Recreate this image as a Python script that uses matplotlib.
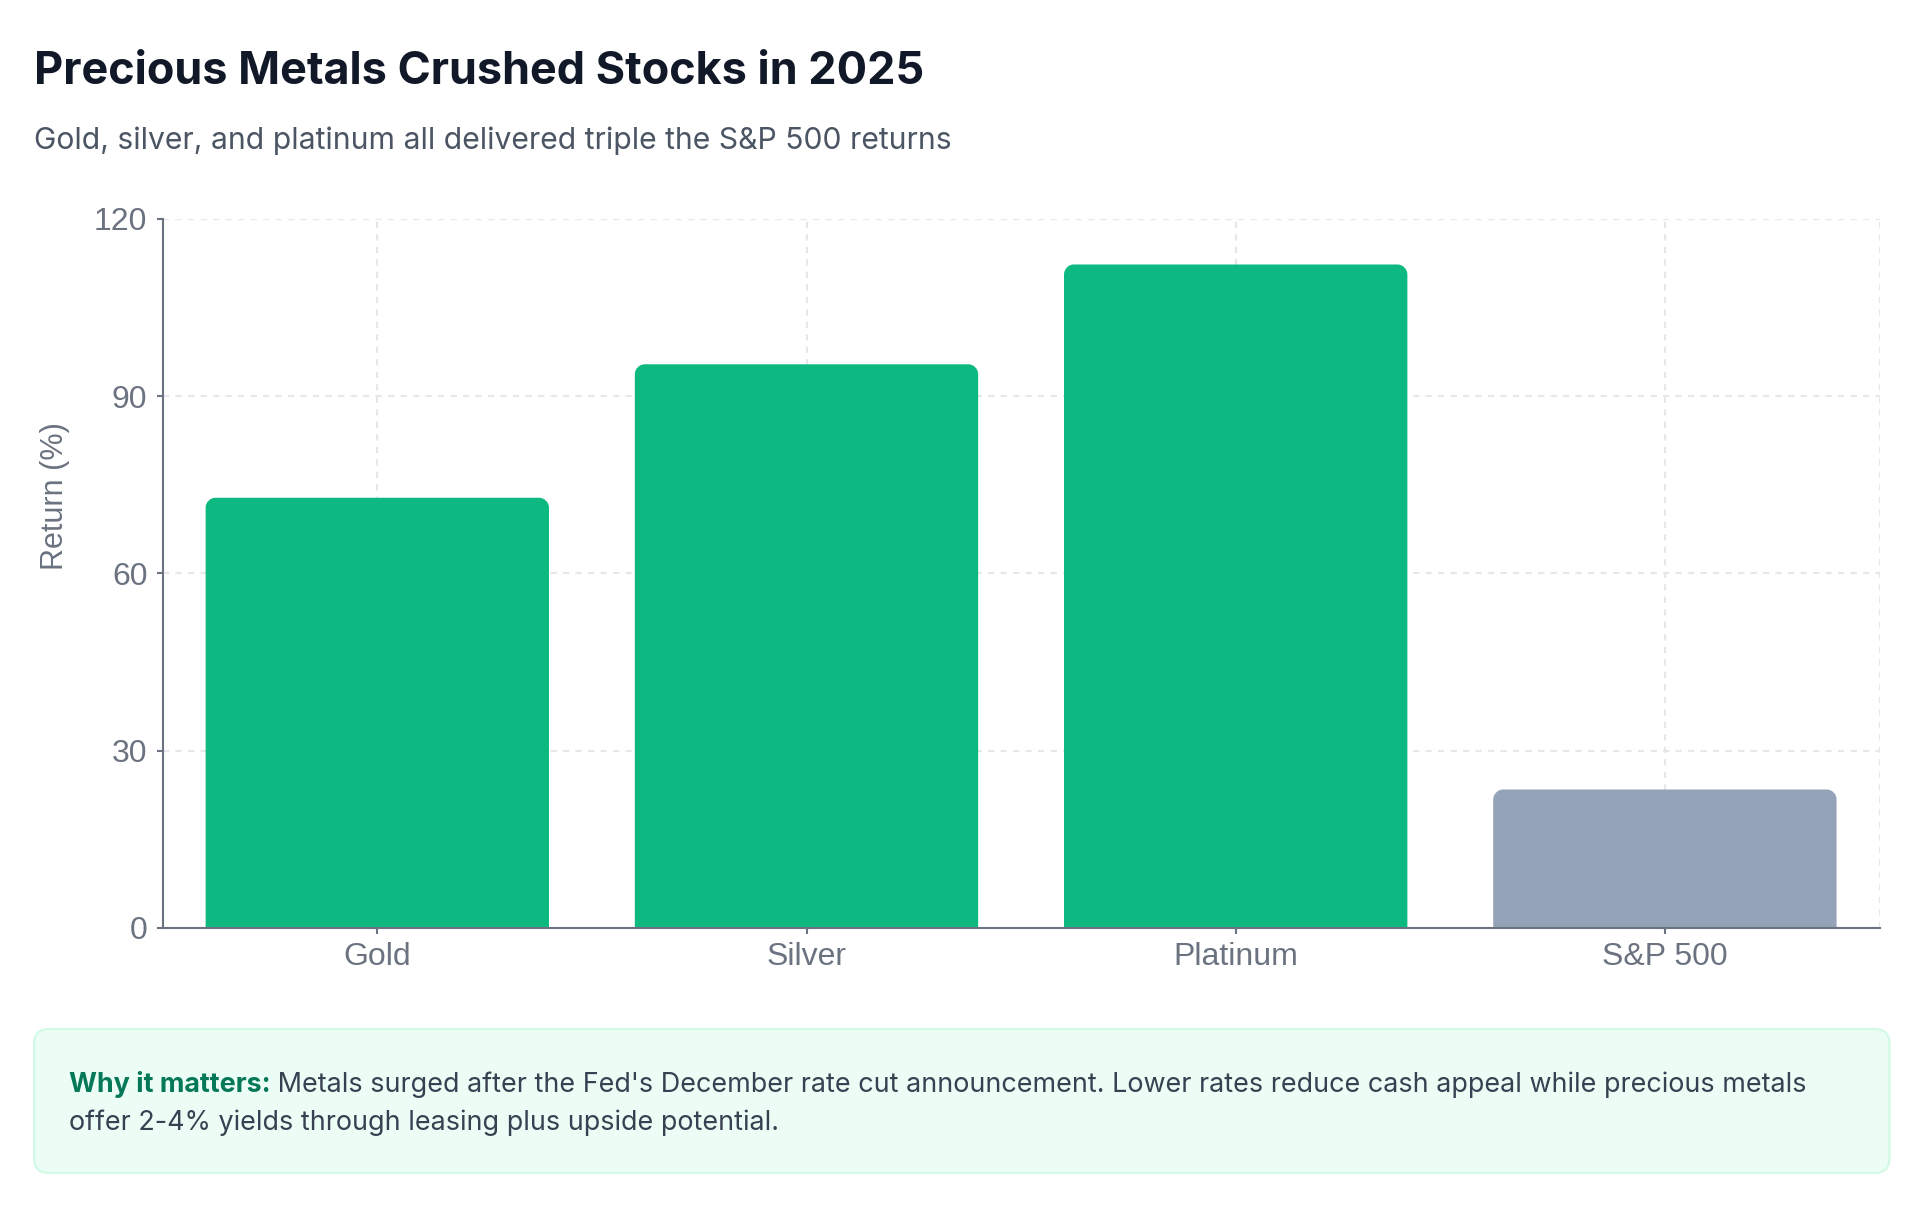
import numpy as np
import matplotlib
matplotlib.use("Agg")
import matplotlib.pyplot as plt
from matplotlib.path import Path
from matplotlib.patches import PathPatch, FancyBboxPatch

# data
assets = ["Gold", "Silver", "Platinum", "S&P 500"]
returns = [72.8, 95.4, 112.3, 23.4]
bar_colors = ["#0eb981", "#0eb981", "#0eb981", "#94a3b8"]
y_ticks = [0, 30, 60, 90, 120]

title = "Precious Metals Crushed Stocks in 2025"
subtitle = "Gold, silver, and platinum all delivered triple the S&P 500 returns"
note_bold = "Why it matters:"
note_line1 = " Metals surged after the Fed's December rate cut announcement. Lower rates reduce cash appeal while precious metals"
note_line2 = "offer 2-4% yields through leasing plus upside potential."

W, H = 1920, 1210
TICK_FONT = "Liberation Sans"
TEXT_FONT = "Inter"
GRAY = "#6b7280"
GRID = "#e5e7eb"

plt.rcParams["lines.scale_dashes"] = False

fig = plt.figure(figsize=(W / 100, H / 100), dpi=100)
fig.patch.set_facecolor("white")

# overlay in pixel coords (top-down) for titles and the note box
over = fig.add_axes([0, 0, 1, 1], zorder=0)
over.set_xlim(0, W)
over.set_ylim(H, 0)
over.axis("off")

ax = fig.add_axes([162.7 / W, 1 - 927.7 / H, (1879.5 - 162.7) / W, (927.7 - 219) / H], zorder=1)
ax.patch.set_alpha(0)
x = np.arange(len(assets))
ax.set_xlim(-0.5, len(assets) - 0.5)
ax.set_ylim(0, 120)

# dashed grid, also on top and right edges
for yv in y_ticks[1:]:
    ax.axhline(yv, color=GRID, lw=1.5, ls=(0, (4.5, 4.5)), zorder=0)
for xv in list(x) + [len(assets) - 0.5]:
    ax.axvline(xv, color=GRID, lw=1.5, ls=(0, (4.5, 4.5)), zorder=0)

# bars with rounded top corners
fig.canvas.draw()
p0 = ax.transData.transform((0, 0))
p1 = ax.transData.transform((1, 1))
px_x, px_y = p1[0] - p0[0], p1[1] - p0[1]
r = 10
rx, ry = r / px_x, r / px_y
k = 0.5523
width = 0.8
for xi, val, col in zip(x, returns, bar_colors):
    x0, x1 = xi - width / 2, xi + width / 2
    y0, y1 = 0, val
    verts = [(x0, y0), (x0, y1 - ry),
             (x0, y1 - ry + k * ry), (x0 + rx - k * rx, y1), (x0 + rx, y1),
             (x1 - rx, y1),
             (x1 - rx + k * rx, y1), (x1, y1 - ry + k * ry), (x1, y1 - ry),
             (x1, y0), (x0, y0)]
    codes = [Path.MOVETO, Path.LINETO,
             Path.CURVE4, Path.CURVE4, Path.CURVE4,
             Path.LINETO,
             Path.CURVE4, Path.CURVE4, Path.CURVE4,
             Path.LINETO, Path.CLOSEPOLY]
    ax.add_patch(PathPatch(Path(verts, codes), facecolor=col, edgecolor="none", zorder=2))

for s in ["top", "right"]:
    ax.spines[s].set_visible(False)
for s in ["left", "bottom"]:
    ax.spines[s].set_color(GRAY)
    ax.spines[s].set_linewidth(1.5)
    ax.spines[s].set_zorder(3)

ax.set_xticks(x, assets)
ax.set_yticks(y_ticks)
ax.tick_params(axis="both", length=4.5, width=1.5, color=GRAY, labelcolor=GRAY, labelsize=23)
ax.tick_params(axis="y", pad=6.5)
ax.tick_params(axis="x", pad=6)
for lab in ax.get_xticklabels() + ax.get_yticklabels():
    lab.set_fontfamily(TICK_FONT)

over.text(55, 496, "Return (%)", rotation=90, ha="center", va="center",
          fontsize=22, color=GRAY, family=TICK_FONT)

# title block
over.text(34, 84, title, fontsize=32.4, fontweight="bold", color="#111827",
          family=TEXT_FONT, va="baseline")
over.text(34, 149, subtitle, fontsize=21.7, color="#4b5563",
          family=TEXT_FONT, va="baseline")

# note box
box = FancyBboxPatch((34, 1029), 1889.5 - 34, 1173 - 1029,
                     boxstyle="round,pad=0,rounding_size=15",
                     facecolor="#ecfdf5", edgecolor="#d1fae5", lw=1.5)
over.add_patch(box)
t_bold = over.text(68.6, 1092, note_bold, fontsize=19.4, fontweight="bold",
                   color="#047857", family=TEXT_FONT, va="baseline")
fig.canvas.draw()
bb = t_bold.get_window_extent()
over.text(68.6 + bb.width, 1092, note_line1, fontsize=19.4, color="#374151",
          family=TEXT_FONT, va="baseline")
over.text(68.6, 1130, note_line2, fontsize=19.4, color="#374151",
          family=TEXT_FONT, va="baseline")

fig.savefig("out.png", dpi=100, facecolor="white")
